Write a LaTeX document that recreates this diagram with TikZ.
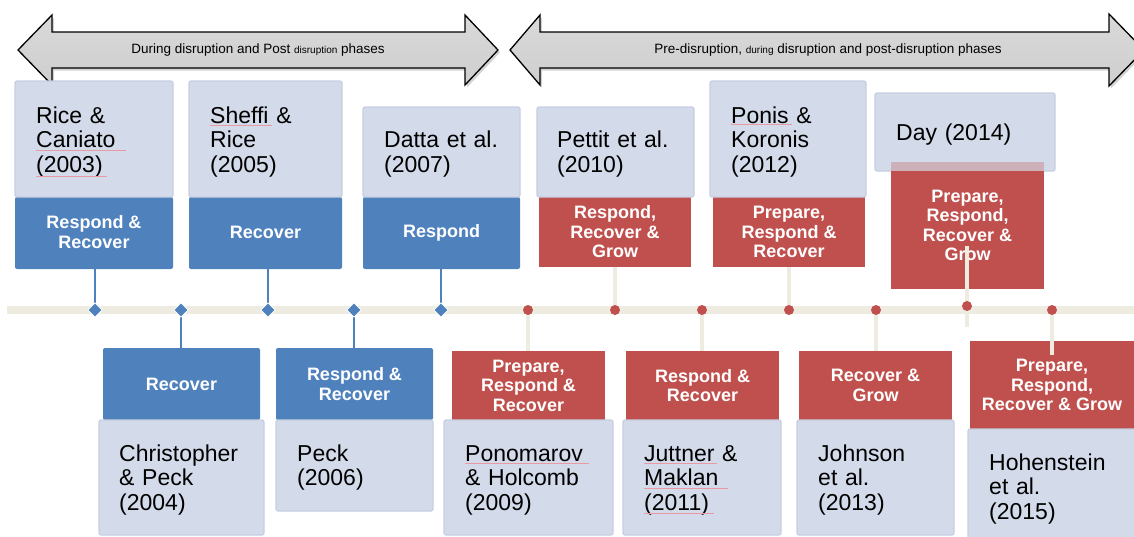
\documentclass[tikz,border=0pt]{standalone}
\usepackage{fontspec}
\setmainfont{Liberation Sans}
\usetikzlibrary{shapes.geometric,shadows}

\definecolor{boxblue}{HTML}{4F81BD}
\definecolor{boxred}{HTML}{C0504D}
\definecolor{paper}{HTML}{D3DAE9}
\definecolor{paperedge}{HTML}{C6CEE1}
\definecolor{track}{HTML}{EEECE1}
\definecolor{spellred}{HTML}{E99AA3}

\pgfdeclarelayer{back}
\pgfdeclarelayer{over}
\pgfdeclarelayer{top}
\pgfsetlayers{back,main,over,top}

% a rectangle given by its corners (x1,y1) (x2,y2), in pixel units
\newcommand\panel[7]{%
  \node[#2, inner sep=0pt, outer sep=0pt,
        minimum width={(#5-#3)*1pt}, minimum height={(#6-#4)*1pt}]
        (#1) at ({(#3+#5)/2},{(#4+#6)/2}) {#7};}

\tikzset{
  cite/.style={fill=paper, draw=paperedge, line width=1.2pt, rounded corners=2pt},
  phaseblue/.style={fill=boxblue, rounded corners=2pt, text=white, align=center,
    font=\bfseries\fontsize{18}{19.5}\selectfont},
  phasered/.style={fill=boxred, text=white, align=center,
    font=\bfseries\fontsize{18}{19.5}\selectfont},
  citetext/.style={anchor=base west, inner sep=0pt, text width=160pt, align=left,
    font=\fontsize{23}{24.5}\selectfont},
  bigarrow/.style={draw=black, line width=1.3pt, line join=miter,
    top color=gray!30, middle color=gray!8, bottom color=gray!38,
    drop shadow={shadow xshift=2pt, shadow yshift=-2.5pt, opacity=0.35}},
  phasetext/.style={font=\fontsize{13.5}{16}\selectfont, inner sep=0pt},
  band/.style={draw=track, line width=8pt},
  blueleg/.style={draw=boxblue, line width=2pt},
  beigeleg/.style={draw=track, line width=3.5pt},
  bluemark/.style={diamond, fill=boxblue, draw=white, line width=0.8pt,
    inner sep=0pt, minimum size=14.5pt},
  redmark/.style={circle, fill=boxred, inner sep=0pt, minimum size=10pt},
  spell/.style={draw=spellred, line width=0.9pt}
}

\begin{document}
\begin{tikzpicture}[x=1pt, y=-1pt]
\useasboundingbox (0,0) rectangle (1134,536);

% phase arrows
\path[bigarrow] (18,50) -- (52,15) -- (52,32) -- (465,32) -- (465,15) -- (498,50)
  -- (465,85) -- (465,68) -- (52,68) -- (52,85) -- cycle;
\node[phasetext] (phaseA) at (258,50)
  {During disruption and Post {\fontsize{10}{12}\selectfont disruption} phases};
\path[bigarrow] (510,50) -- (540,15) -- (540,32) -- (1109,32) -- (1109,14) -- (1144,50)
  -- (1109,86) -- (1109,68) -- (540,68) -- (540,85) -- cycle;
\node[phasetext] (phaseB) at (828,50)
  {Pre-disruption, {\fontsize{10}{12}\selectfont during} disruption and post-disruption phases};

% upper row: phase box, then citation box
\panel{b1p}{phaseblue}{15}{197}{173}{269}{\raisebox{2pt}{\shortstack{Respond \&\\Recover}}}
\panel{b1c}{cite}{15}{81}{173}{197}{}
\panel{b2p}{phaseblue}{189}{197}{342}{269}{\raisebox{2pt}{Recover}}
\panel{b2c}{cite}{189}{81}{342}{197}{}
\panel{b3p}{phaseblue}{363}{197}{520}{269}{\raisebox{2pt}{Respond}}
\panel{b3c}{cite}{363}{107}{520}{197}{}
\panel{b4p}{phasered}{539}{197}{691}{267}{Respond,\\Recover \&\\Grow}
\panel{b4c}{cite}{537}{107}{694}{197}{}
\panel{b5p}{phasered}{713}{197}{865}{267}{Prepare,\\Respond \&\\Recover}
\panel{b5c}{cite}{710}{81}{866}{197}{}
\panel{b6c}{cite}{875}{93}{1055}{171}{}
\panel{b6p}{phasered}{891}{162}{1044}{289}{Prepare,\\Respond,\\Recover \&\\Grow}
\fill[paper, opacity=0.7] (891,162) rectangle (1044,171);

% lower row
\panel{c1p}{phaseblue}{103}{348}{260}{420}{Recover}
\panel{c1c}{cite}{99}{420}{264}{535}{}
\panel{c2p}{phaseblue}{276}{348}{433}{420}{Respond \&\\Recover}
\panel{c2c}{cite}{276}{420}{433}{511}{}
\panel{c3p}{phasered}{452}{351}{605}{420}{Prepare,\\Respond \&\\Recover}
\panel{c3c}{cite}{444}{420}{613}{535}{}
\panel{c4p}{phasered}{626}{351}{779}{420}{Respond \&\\Recover}
\panel{c4c}{cite}{623}{420}{781}{535}{}
\panel{c5p}{phasered}{799}{351}{952}{420}{Recover \&\\Grow}
\panel{c5c}{cite}{797}{420}{954}{535}{}
\panel{c6p}{phasered}{970}{341}{1134}{429}{Prepare,\\Respond,\\Recover \& Grow}
\panel{c6c}{cite}{968}{429}{1140}{540}{}

% citations
\node[citetext] (t1) at (36,123) {Rice \&\\Caniato\\(2003)};
\node[citetext] (t2) at (210,123) {Sheffi \&\\Rice\\(2005)};
\node[citetext] (t3) at (384,147.5) {Datta et al.\\(2007)};
\node[citetext] (t4) at (557,147.5) {Pettit et al.\\(2010)};
\node[citetext] (t5) at (731,123) {Ponis \&\\Koronis\\(2012)};
\node[citetext] (t6) at (896,140) {Day (2014)};
\node[citetext] (u1) at (119,461) {Christopher\\\& Peck\\(2004)};
\node[citetext] (u2) at (297,461) {Peck\\(2006)};
\node[citetext] (u3) at (465,461) {Ponomarov\\\& Holcomb\\(2009)};
\node[citetext] (u4) at (644,461) {Juttner \&\\Maklan\\(2011)};
\node[citetext] (u5) at (818,461) {Johnson\\et al.\\(2013)};
\node[citetext] (u6) at (989,470) {Hohenstein\\et al.\\(2015)};

% spell-check underlines
\draw[spell] (36,150) -- (126,150);
\draw[spell] (36,176) -- (107,176);
\draw[spell] (210,125) -- (272,125);
\draw[spell] (731,124) -- (792,124);
\draw[spell] (465,463) -- (589,463);
\draw[spell] (644,463) -- (717,463);
\draw[spell] (644,488) -- (728,488);
\draw[spell] (644,513) -- (714,513);

% timeline markers
\begin{pgfonlayer}{top}
\foreach \i/\x in {1/95,2/181,3/268,4/354,5/441}
  \node[bluemark] (d\i) at (\x,310) {};
\foreach \i/\x/\y in {1/528/310,2/615/310,3/702/310,4/789/310,5/876/310,6/967/306,7/1052/310}
  \node[redmark] (r\i) at (\x,\y) {};
\end{pgfonlayer}

% timeline and vertical legs
\coordinate (tl-l) at (7,310);
\coordinate (tl-r) at (1134,310);
\coordinate (dayTop) at (967,246);
\coordinate (dayEnd) at (967,327);
\coordinate (lastEnd) at (1052,355);
\begin{pgfonlayer}{back}
\draw[band] (tl-l) -- (tl-r);
\draw[blueleg] (b1p.south -| d1.center) -- (d1.center);
\draw[blueleg] (b2p.south -| d3.center) -- (d3.center);
\draw[blueleg] (b3p.south -| d5.center) -- (d5.center);
\draw[blueleg] (d2.center) -- (c1p.north -| d2.center);
\draw[blueleg] (d4.center) -- (c2p.north -| d4.center);
\draw[beigeleg] (b4p.south -| r2.center) -- (r2.center);
\draw[beigeleg] (b5p.south -| r4.center) -- (r4.center);
\draw[beigeleg] (r1.center) -- (c3p.north -| r1.center);
\draw[beigeleg] (r3.center) -- (c4p.north -| r3.center);
\draw[beigeleg] (r5.center) -- (c5p.north -| r5.center);
\end{pgfonlayer}
\begin{pgfonlayer}{over}
\draw[beigeleg] (dayTop) -- (dayEnd);
\draw[beigeleg] (r7.center) -- (lastEnd);
\end{pgfonlayer}
\end{tikzpicture}
\end{document}
